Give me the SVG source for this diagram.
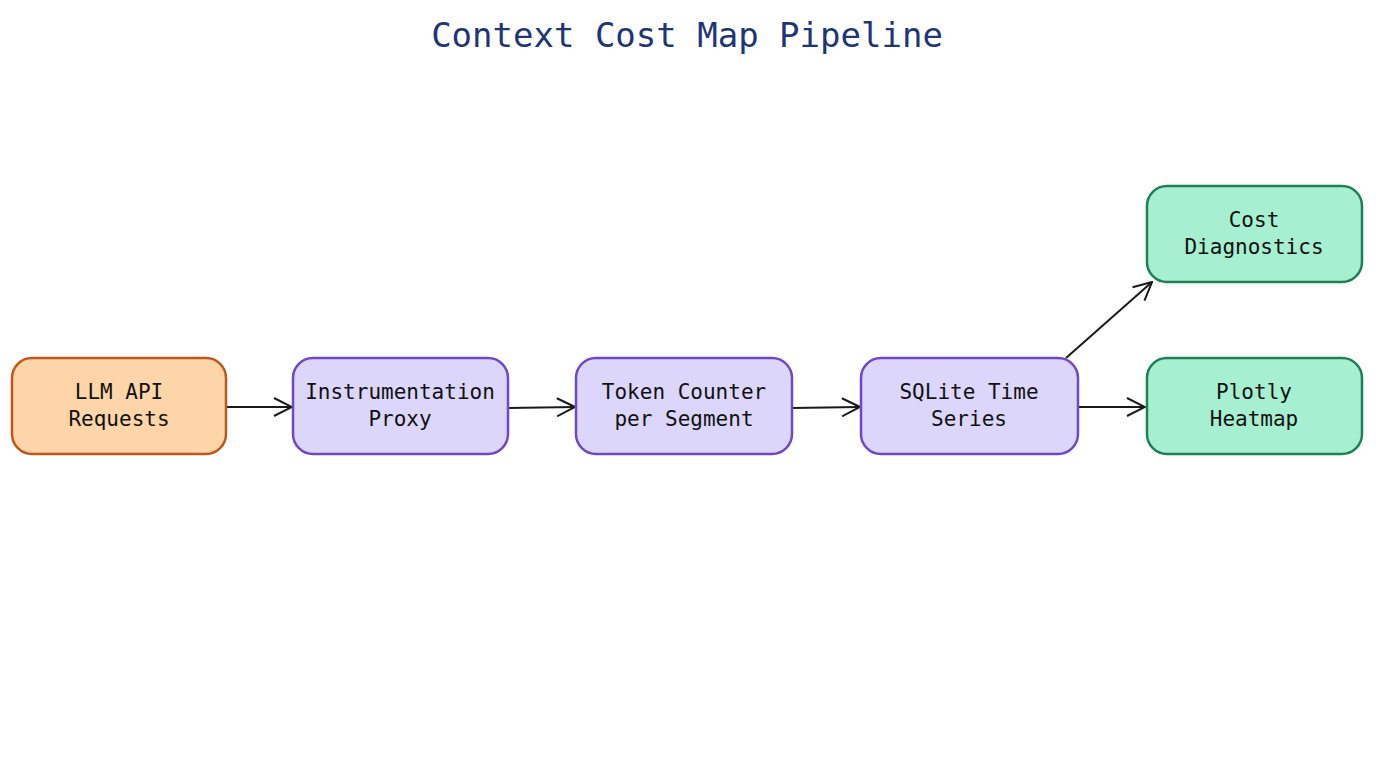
<svg xmlns="http://www.w3.org/2000/svg" width="1376" height="768" viewBox="0 0 1376 768">
<defs>
<marker id="ah" viewBox="0 0 20 20" refX="19" refY="10" markerWidth="20" markerHeight="20" markerUnits="userSpaceOnUse" orient="auto">
<path d="M1 1 L19 10 L1 19" fill="none" stroke="#1a1a1a" stroke-width="2"/>
</marker>
<style>
.t{font-family:"DejaVu Sans Mono","Liberation Mono",monospace;font-size:21px;fill:#111;text-anchor:middle}
.o{fill:#fdd5a8;stroke:#c0561c;stroke-width:2.5}
.p{fill:#dcd6fb;stroke:#7048c4;stroke-width:2.5}
.g{fill:#a6efd0;stroke:#1e8059;stroke-width:2.5}
.c{stroke:#1a1a1a;stroke-width:2;fill:none;marker-end:url(#ah)}
</style>
</defs>
<rect width="1376" height="768" fill="#fff"/>
<text x="687" y="47" style="font-family:'DejaVu Sans Mono','Liberation Mono',monospace;font-size:34px;fill:#1f3578;text-anchor:middle">Context Cost Map Pipeline</text>
<g id="connectors">
<path class="c" d="M226 407 L292 407"/>
<path class="c" d="M508 408 L575 407"/>
<path class="c" d="M792 408 L860 407"/>
<path class="c" d="M1078 407 L1145 407"/>
<path class="c" d="M1066 358 L1152 282"/>
</g>
<g id="n1"><rect class="o" x="12" y="358" width="214" height="96" rx="20"/><text class="t" x="119" y="399">LLM API</text><text class="t" x="119" y="426">Requests</text></g>
<g id="n2"><rect class="p" x="293" y="358" width="215" height="96" rx="20"/><text class="t" x="400" y="399">Instrumentation</text><text class="t" x="400" y="426">Proxy</text></g>
<g id="n3"><rect class="p" x="576" y="358" width="216" height="96" rx="20"/><text class="t" x="684" y="399">Token Counter</text><text class="t" x="684" y="426">per Segment</text></g>
<g id="n4"><rect class="p" x="861" y="358" width="217" height="96" rx="20"/><text class="t" x="969" y="399">SQLite Time</text><text class="t" x="969" y="426">Series</text></g>
<g id="n5"><rect class="g" x="1147" y="186" width="215" height="96" rx="20"/><text class="t" x="1254" y="227">Cost</text><text class="t" x="1254" y="254">Diagnostics</text></g>
<g id="n6"><rect class="g" x="1147" y="358" width="215" height="96" rx="20"/><text class="t" x="1254" y="399">Plotly</text><text class="t" x="1254" y="426">Heatmap</text></g>
</svg>
